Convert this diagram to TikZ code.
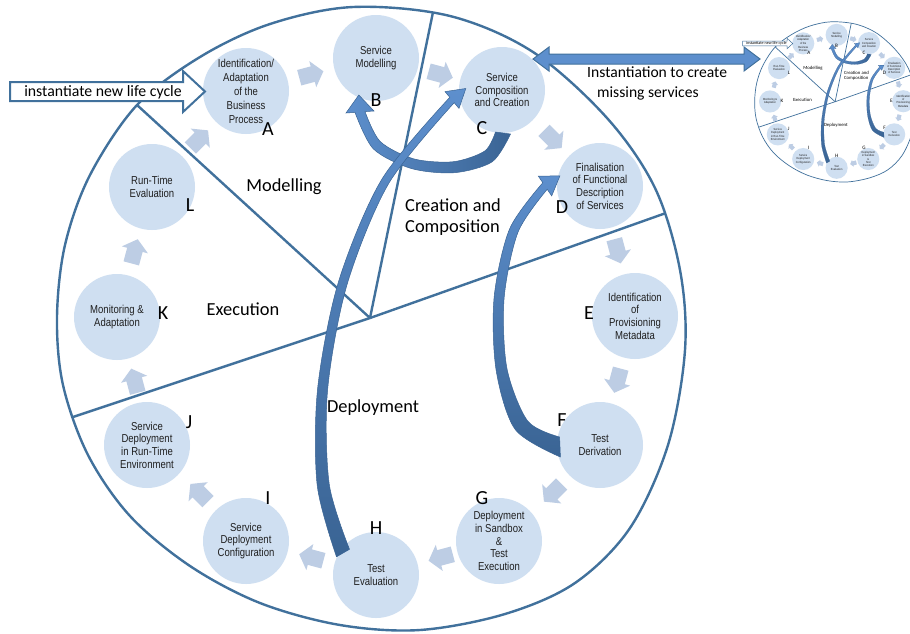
\documentclass[tikz,border=0pt]{standalone}
\usepackage{fontspec}
\setmainfont{Carlito}
\newfontfamily\stagefont[FakeStretch=0.83]{Liberation Sans}
\usetikzlibrary{calc}
\definecolor{outc}{RGB}{65,113,156}
\definecolor{nodefill}{RGB}{207,223,241}
\definecolor{chevc}{RGB}{189,205,228}
\definecolor{arrl}{RGB}{93,143,205}
\definecolor{arrd}{RGB}{58,100,148}
\tikzset{
  stage/.style={circle, fill=nodefill, minimum size=86pt, inner sep=0pt, align=center,
    font=\stagefont\fontsize{11.5}{12.6}\selectfont, text=black!88},
  letter/.style={inner sep=0pt, font=\fontsize{20}{20}\selectfont},
  phase/.style={inner sep=0pt, font=\fontsize{18.4}{21}\selectfont, align=left},
  outl/.style={draw=outc, line width=2.4pt},
  bigarr/.style={draw=arrd, line width=0.5pt},
  newlc/.style={draw=outc, line width=2pt, fill=white},
  chev/.pic={\fill[chevc] (-12.5,-8) -- (1.5,-8) -- (1.5,-13.5) -- (12.5,0) -- (1.5,13.5) -- (1.5,8) -- (-12.5,8) -- cycle;},
}
\newcommand{\lifecycle}{%
  \coordinate (O) at (370,318);
  \coordinate (e1) at (102,73);
  \coordinate (e2) at (439,-17);
  \coordinate (e3) at (697,202);
  \coordinate (e4) at (43,427);
  \begin{scope}
    \clip plot[smooth cycle, tension=0.55] coordinates {(353,7) (450,16) (533,52) (607,118) (655,188) (680,270) (685,350) (668,445) (630,528) (575,583) (505,614) (420,630) (340,625) (260,603) (190,566) (130,516) (88,455) (63,385) (57,317) (65,245) (90,175) (137,105) (200,57) (270,24)};
    \draw[outl] (O) -- (e1);
    \draw[outl] (O) -- (e2);
    \draw[outl] (O) -- (e3);
    \draw[outl] (O) -- (e4);
  \end{scope}
  \draw[outl] plot[smooth cycle, tension=0.55] coordinates {(353,7) (450,16) (533,52) (607,118) (655,188) (680,270) (685,350) (668,445) (630,528) (575,583) (505,614) (420,630) (340,625) (260,603) (190,566) (130,516) (88,455) (63,385) (57,317) (65,245) (90,175) (137,105) (200,57) (270,24)};
  % small block arrows between the stages
  \pic[rotate=15] at (311.3,74.5) {chev};
  \pic[rotate=-15] at (440.7,74.5) {chev};
  \pic[rotate=-45] at (552.8,139.2) {chev};
  \pic[rotate=-75] at (617.5,251.3) {chev};
  \pic[rotate=-105] at (617.5,380.7) {chev};
  \pic[rotate=-135] at (552.8,492.8) {chev};
  \pic[rotate=-165] at (440.7,557.5) {chev};
  \pic[rotate=165] at (311.3,557.5) {chev};
  \pic[rotate=135] at (199.2,492.8) {chev};
  \pic[rotate=105] at (134.5,380.7) {chev};
  \pic[rotate=75] at (134.5,251.3) {chev};
  \pic[rotate=45] at (199.2,139.2) {chev};
  % stages
  \node[stage, font=\stagefont\fontsize{11.5}{14}\selectfont] (A) at (246,91) {Identification/\\Adaptation\\of the\\Business\\Process};
  \node[stage] (B) at (376,58) {Service\\Modelling};
  \node[stage] (C) at (502,90) {Service\\Composition\\and Creation};
  \node[stage] (D) at (600,186) {Finalisation\\of Functional\\Description\\of Services};
  \node[stage] (E) at (635,316) {Identification\\of\\Provisioning\\Metadata};
  \node[stage] (F) at (600,445) {Test\\Derivation};
  \node[stage] (G) at (499,541) {Deployment\\in Sandbox\\\&\\Test\\Execution};
  \node[stage] (H) at (376,575) {Test\\Evaluation};
  \node[stage] (I) at (246,541) {Service\\Deployment\\Configuration};
  \node[stage] (J) at (147,445) {Service\\Deployment\\in Run-Time\\Environment};
  \node[stage] (K) at (117,317) {Monitoring \&\\Adaptation};
  \node[stage] (L) at (152,187) {Run-Time\\Evaluation};
  % big curved arrows: C -> B
  \shadedraw[bigarr, left color=arrl, right color=arrd]
    plot[smooth] coordinates {(495.5,132) (484.9,150.9) (453.5,161.7) (413.9,158.9) (380.2,141.5) (365,111.6)}
    -- (374,111) -- (358.8,95) -- (346,113)
    -- plot[smooth] coordinates {(355,112.4) (373.4,148.9) (411.3,168.5) (454.5,172.7) (492.3,161.7) (510.5,134)}
    -- cycle;
  % H -> C
  \shadedraw[bigarr, top color=arrl, bottom color=arrd]
    plot[smooth] coordinates {(349.5,549.3) (329.2,483.9) (327.6,389.8) (347.1,284.4) (388.8,183.3) (454.2,102.7)}
    -- (459.0,108.4) -- (465.8,88.5) -- (445.0,91.6)
    -- plot[smooth] coordinates {(449.8,97.3) (381.8,179.3) (338.5,281.8) (317.6,388.8) (317.2,485.3) (336.5,556.8)}
    -- cycle;
  % F -> D
  \shadedraw[bigarr, top color=arrl, bottom color=arrd]
    plot[smooth] coordinates {(559.6,437.0) (527.7,421.0) (506.9,368.2) (504.1,298.2) (518.1,231.9) (547.2,189.3)}
    -- (551.7,195.9) -- (559.9,175.9) -- (538.3,176.1)
    -- plot[smooth] coordinates {(542.8,182.7) (509.7,228.7) (494.1,297.4) (496.1,370.0) (515.3,429.6) (560.4,457.0)}
    -- cycle;
  % letters
  \node[letter] (lA) at (268,129) {A};
  \node[letter] (lB) at (376,100) {B};
  \node[letter] (lC) at (482,128) {C};
  \node[letter] (lD) at (562,207) {D};
  \node[letter] (lE) at (589,313) {E};
  \node[letter] (lF) at (562,420) {F};
  \node[letter] (lG) at (482,498) {G};
  \node[letter] (lH) at (376,528) {H};
  \node[letter] (lI) at (268,498) {I};
  \node[letter] (lJ) at (189,422) {J};
  \node[letter] (lK) at (163,313) {K};
  \node[letter] (lL) at (190,205) {L};
  % phase labels
  \node[phase] (pM) at (284,187) {Modelling};
  \node[phase, anchor=west] (pC) at (405,217) {Creation and\\Composition};
  \node[phase] (pE) at (243,309) {Execution};
  \node[phase] (pD) at (373,408) {Deployment};
  % new life cycle arrow
  \filldraw[newlc] (10,82) -- (183,82) -- (183,71) -- (205,91.5) -- (183,112) -- (183,101) -- (10,101) -- cycle;
  \node[inner sep=0pt, font=\fontsize{15.8}{18}\selectfont] (nlc) at (103,92) {instantiate new life cycle};
}
\begin{document}
\begin{tikzpicture}[x=1pt,y=-1pt]
  \fill[white] (0,0) rectangle (910,633);
  \useasboundingbox (0,0) rectangle (910,633);
  \lifecycle
  \begin{scope}[shift={(740,20)}, scale=0.257, name prefix=m-,
      every node/.append style={transform shape},
      outl/.style={draw=outc, line width=0.7pt},
      bigarr/.style={draw=arrd, line width=0.15pt},
      newlc/.style={draw=outc, line width=0.5pt, fill=white}]
    \lifecycle
  \end{scope}
  % instantiation double arrow
  \filldraw[fill=arrl, draw=outc, line width=1pt, line join=miter]
    (533,59) -- (549,47) -- (549,54) -- (744,54) -- (744,47) -- (760,59)
    -- (744,71) -- (744,64) -- (549,64) -- (549,71) -- cycle;
  \node[inner sep=0pt, anchor=base west, font=\fontsize{15.6}{18}\selectfont] (inst1) at (587,77) {Instantiation to create};
  \node[inner sep=0pt, anchor=base west, font=\fontsize{15.6}{18}\selectfont] (inst2) at (597,97) {missing services};
\end{tikzpicture}
\end{document}
